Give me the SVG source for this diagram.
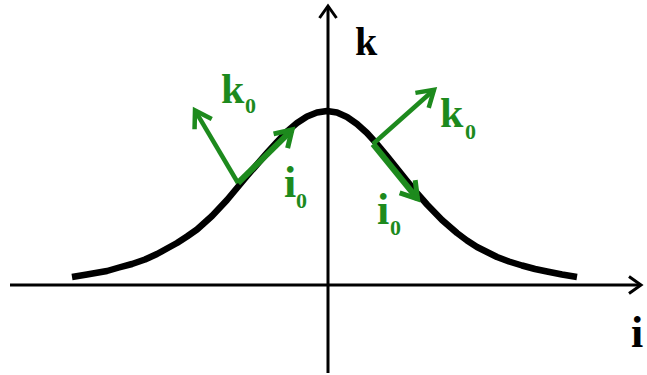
<svg xmlns="http://www.w3.org/2000/svg" width="647" height="375" viewBox="0 0 647 375">
  <style>
    .axis { stroke: #000; stroke-width: 3; fill: none; }
    .curve { stroke: #000; stroke-width: 6.5; fill: none; stroke-linejoin: round; stroke-linecap: butt; }
    .g1 { stroke: #1d8a1d; stroke-width: 4.5; fill: none; }
    .g2 { stroke: #1d8a1d; stroke-width: 6; fill: none; }
    .lbl { font-family: "Liberation Serif", "Times New Roman", serif; font-weight: bold; fill: #000; }
    .glbl { font-family: "Liberation Serif", "Times New Roman", serif; font-weight: bold; fill: #1d8a1d; }
  </style>
  <defs>
    <marker id="ah" viewBox="-20 -14 24 28" refX="0" refY="0" markerWidth="24" markerHeight="28" markerUnits="userSpaceOnUse" orient="auto" overflow="visible">
      <path d="M -12 -8.5 L 0 0 L -12 8.5" fill="none" stroke="#000" stroke-width="3"/>
    </marker>
    <marker id="ga" viewBox="-20 -14 24 28" refX="0" refY="0" markerWidth="24" markerHeight="28" markerUnits="userSpaceOnUse" orient="auto" overflow="visible">
      <path d="M -16 -10 L 0 0 L -16 10" fill="none" stroke="#1d8a1d" stroke-width="4.5"/>
    </marker>
    <marker id="gb" viewBox="-20 -14 24 28" refX="0" refY="0" markerWidth="24" markerHeight="28" markerUnits="userSpaceOnUse" orient="auto" overflow="visible">
      <path d="M -16 -10 L 0 0 L -16 10" fill="none" stroke="#1d8a1d" stroke-width="5"/>
    </marker>
  </defs>

  <g id="axes">
    <line class="axis" x1="10" y1="285" x2="641" y2="285" marker-end="url(#ah)"/>
    <line class="axis" x1="328" y1="373" x2="328" y2="6" marker-end="url(#ah)"/>
  </g>

  <g id="curve">
    <path class="curve" d="M 72 277 L 87 274.5 L 107 271 L 119 267.5 L 132 264 L 145 259.5 L 157 254 L 167 248.5 L 177 243 L 187 236.5 L 197 229.5 L 212 216 L 227 200 L 237 188 L 247 176 L 257 164.5 L 267 153 L 277 142 L 287 131.5 L 297 123 L 307 116.5 L 317 112.5 L 327 111 L 337 112.5 L 347 117 L 357 124 L 367 133 L 377 144 L 387 156 L 397 168.5 L 407 181 L 417 193 L 427 204.5 L 442 220 L 457 233 L 467 240.5 L 477 247 L 487 252 L 497 257 L 509 261.5 L 522 265.5 L 535 269 L 547 271.5 L 562 274.5 L 577 277"/>
  </g>

  <g id="connectors">
    <line class="g1" x1="238" y1="183" x2="195" y2="110.4" marker-end="url(#ga)"/>
    <line class="g2" x1="238" y1="183" x2="292" y2="129.8" marker-end="url(#gb)"/>
    <line class="g1" x1="373" y1="144" x2="434" y2="89.7" marker-end="url(#ga)"/>
    <line class="g2" x1="373" y1="144" x2="417.5" y2="198.9" marker-end="url(#gb)"/>
  </g>

  <g id="label-k">
    <text class="lbl" x="355" y="55" font-size="40">k</text>
  </g>
  <g id="label-i">
    <text class="lbl" x="631" y="347" font-size="44">i</text>
  </g>
  <g id="label-k0-left">
    <text class="glbl" x="221" y="103" font-size="42">k</text>
    <text class="glbl" x="245" y="113" font-size="22">0</text>
  </g>
  <g id="label-i0-left">
    <text class="glbl" x="284" y="197" font-size="44">i</text>
    <text class="glbl" x="296" y="208" font-size="22">0</text>
  </g>
  <g id="label-k0-right">
    <text class="glbl" x="440" y="127" font-size="42">k</text>
    <text class="glbl" x="465" y="139" font-size="22">0</text>
  </g>
  <g id="label-i0-right">
    <text class="glbl" x="377" y="224" font-size="44">i</text>
    <text class="glbl" x="390" y="235" font-size="22">0</text>
  </g>
</svg>
